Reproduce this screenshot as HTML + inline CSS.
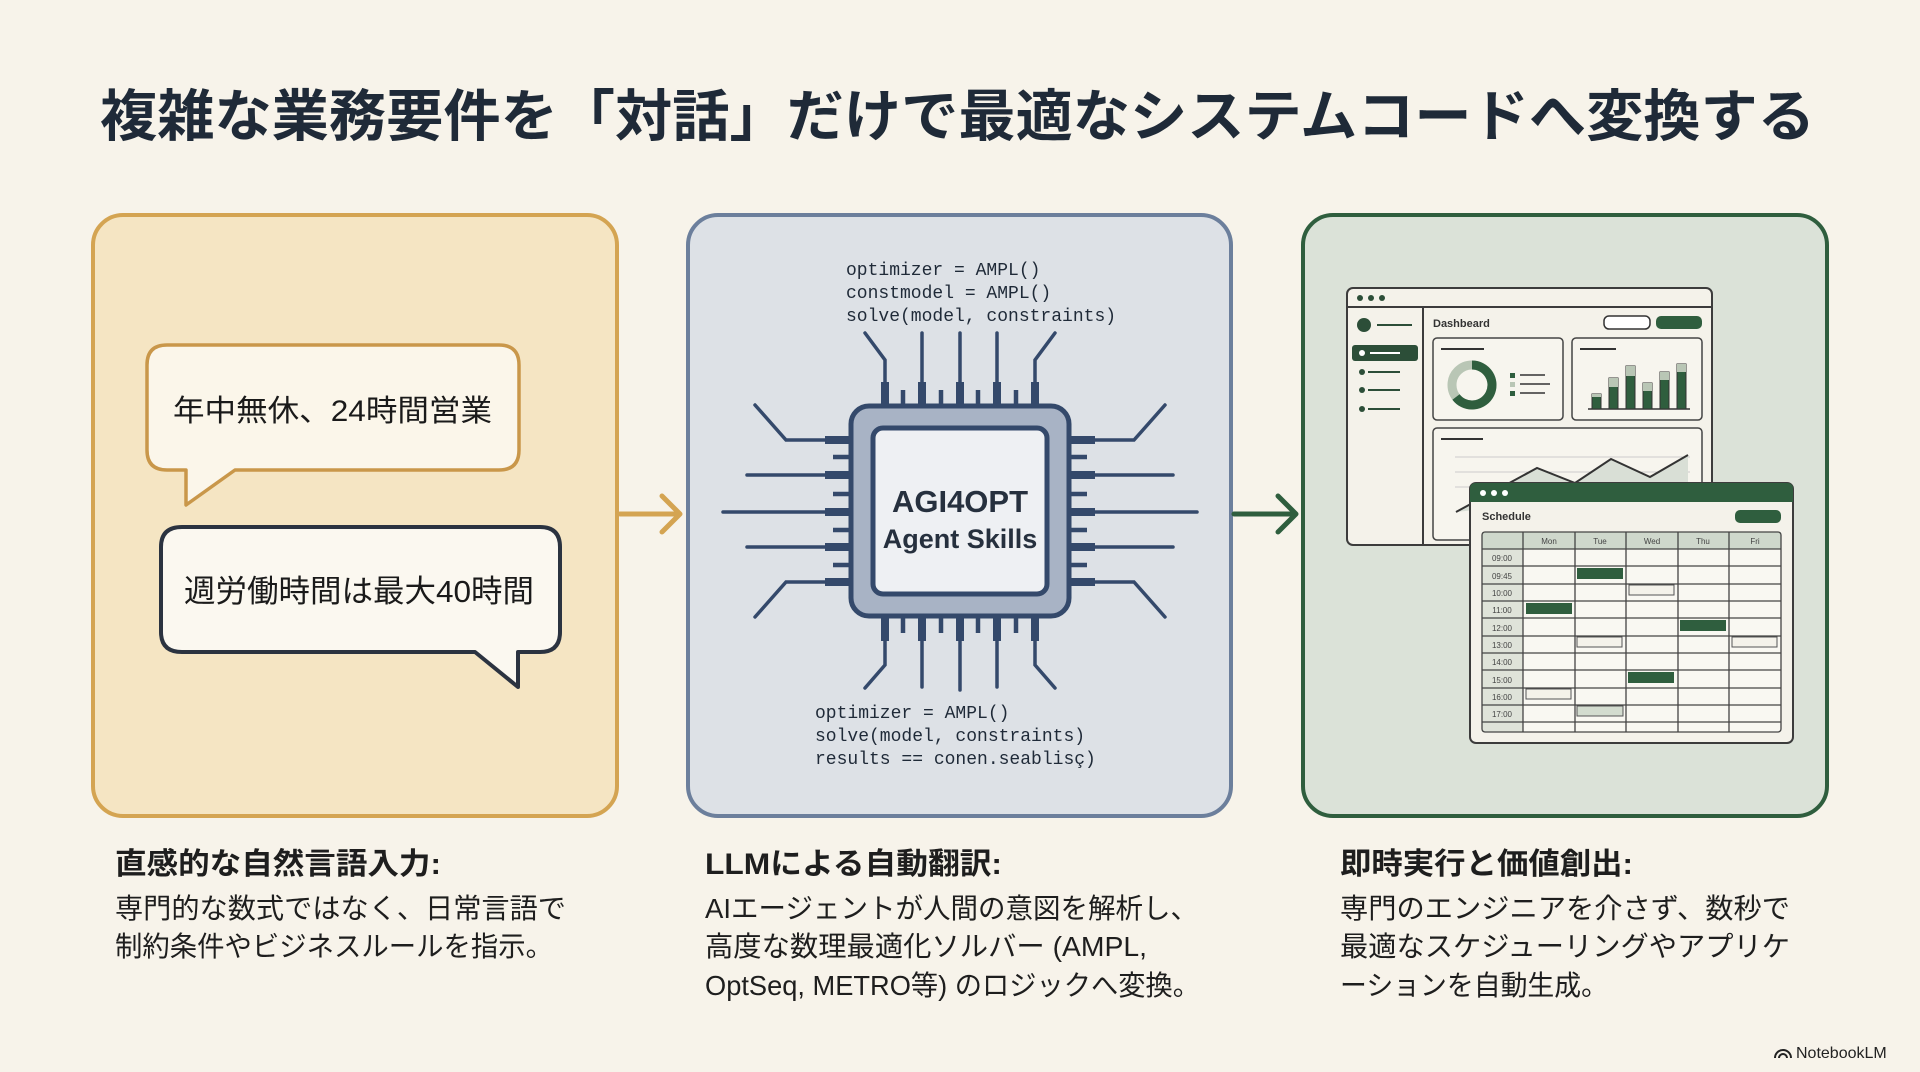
<!DOCTYPE html>
<html><head><meta charset="utf-8"><style>
html,body{margin:0;padding:0;background:#f7f3ea;}
svg{display:block;}
text{font-family:"Liberation Sans","Noto Sans CJK JP",sans-serif;}
.mono{font-family:"Liberation Mono","DejaVu Sans Mono",monospace;}
</style></head><body>
<svg width="1920" height="1072" viewBox="0 0 1920 1072" xmlns="http://www.w3.org/2000/svg">
<rect width="1920" height="1072" fill="#f7f3ea"/>
<text x="100" y="136" font-size="56" font-weight="bold" fill="#1f2a38" textLength="1715" lengthAdjust="spacingAndGlyphs">複雑な業務要件を「対話」だけで最適なシステムコードへ変換する</text>

<!-- panels -->
<rect x="93" y="215" width="524" height="601" rx="30" fill="#f5e5c3" stroke="#d4a452" stroke-width="4"/>
<rect x="688" y="215" width="543" height="601" rx="30" fill="#dde1e6" stroke="#6c7f9c" stroke-width="4"/>
<rect x="1303" y="215" width="524" height="601" rx="30" fill="#dbe2d8" stroke="#2f5e3e" stroke-width="4"/>

<!-- arrows -->
<g fill="none" stroke="#d4a452" stroke-width="5" stroke-linecap="round" stroke-linejoin="round">
<line x1="620" y1="514" x2="679" y2="514"/><polyline points="662,496 680,514 662,532"/></g>
<g fill="none" stroke="#2f5e3e" stroke-width="5" stroke-linecap="round" stroke-linejoin="round">
<line x1="1234" y1="514" x2="1295" y2="514"/><polyline points="1278,496 1296,514 1278,532"/></g>

<!-- bubbles -->
<path d="M167,345 H499 Q519,345 519,365 V450 Q519,470 499,470 H235 L186,505 L186,470 H167 Q147,470 147,450 V365 Q147,345 167,345 Z" fill="#fbf6ea" stroke="#c9974a" stroke-width="3.5" stroke-linejoin="round"/>
<text x="173" y="421" font-size="30" fill="#1a1a1a" textLength="319" lengthAdjust="spacingAndGlyphs">年中無休、24時間営業</text>
<path d="M182,527 H540 Q560,527 560,547 V632 Q560,652 540,652 H518 L518,687 L475,652 H182 Q161,652 161,632 V547 Q161,527 182,527 Z" fill="#fbf8f0" stroke="#2b3340" stroke-width="4" stroke-linejoin="round"/>
<text x="184" y="602" font-size="31" fill="#1a1a1a" textLength="350" lengthAdjust="spacingAndGlyphs">週労働時間は最大40時間</text>

<!-- code -->
<g class="mono" font-size="18" fill="#1f2a38">
<text class="mono" x="846" y="275">optimizer = AMPL()</text>
<text class="mono" x="846" y="298">constmodel = AMPL()</text>
<text class="mono" x="846" y="321">solve(model, constraints)</text>
<text class="mono" x="815" y="718">optimizer = AMPL()</text>
<text class="mono" x="815" y="741">solve(model, constraints)</text>
<text class="mono" x="815" y="764">results == conen.seablisç)</text>
</g>

<!-- chip leads -->
<g fill="none" stroke="#34496b" stroke-width="3.5" stroke-linecap="round">
<polyline points="885,383 885,360 865,333"/><line x1="922" y1="383" x2="922" y2="333"/><line x1="960" y1="383" x2="960" y2="333"/><line x1="997" y1="383" x2="997" y2="333"/><polyline points="1035,383 1035,360 1055,333"/>
<polyline points="885,640 885,665 865,688"/><line x1="922" y1="640" x2="922" y2="687"/><line x1="960" y1="640" x2="960" y2="690"/><line x1="997" y1="640" x2="997" y2="687"/><polyline points="1035,640 1035,665 1055,688"/>
<polyline points="826,440 786,440 755,405"/><line x1="826" y1="475" x2="747" y2="475"/><line x1="826" y1="512" x2="723" y2="512"/><line x1="826" y1="547" x2="747" y2="547"/><polyline points="826,582 786,582 755,617"/>
<polyline points="1094,440 1134,440 1165,405"/><line x1="1094" y1="475" x2="1173" y2="475"/><line x1="1094" y1="512" x2="1197" y2="512"/><line x1="1094" y1="547" x2="1173" y2="547"/><polyline points="1094,582 1134,582 1165,617"/>
</g>
<g stroke="#34496b" stroke-linecap="butt">
<g stroke-width="8"><line x1="885" y1="382" x2="885" y2="406"/><line x1="922" y1="382" x2="922" y2="406"/><line x1="960" y1="382" x2="960" y2="406"/><line x1="997" y1="382" x2="997" y2="406"/><line x1="1035" y1="382" x2="1035" y2="406"/>
<line x1="885" y1="616" x2="885" y2="641"/><line x1="922" y1="616" x2="922" y2="641"/><line x1="960" y1="616" x2="960" y2="641"/><line x1="997" y1="616" x2="997" y2="641"/><line x1="1035" y1="616" x2="1035" y2="641"/>
<line x1="825" y1="440" x2="851" y2="440"/><line x1="825" y1="475" x2="851" y2="475"/><line x1="825" y1="512" x2="851" y2="512"/><line x1="825" y1="547" x2="851" y2="547"/><line x1="825" y1="582" x2="851" y2="582"/>
<line x1="1069" y1="440" x2="1095" y2="440"/><line x1="1069" y1="475" x2="1095" y2="475"/><line x1="1069" y1="512" x2="1095" y2="512"/><line x1="1069" y1="547" x2="1095" y2="547"/><line x1="1069" y1="582" x2="1095" y2="582"/></g>
<g stroke-width="4.5"><line x1="903" y1="390" x2="903" y2="406"/><line x1="941" y1="390" x2="941" y2="406"/><line x1="978" y1="390" x2="978" y2="406"/><line x1="1016" y1="390" x2="1016" y2="406"/>
<line x1="903" y1="616" x2="903" y2="633"/><line x1="941" y1="616" x2="941" y2="633"/><line x1="978" y1="616" x2="978" y2="633"/><line x1="1016" y1="616" x2="1016" y2="633"/>
<line x1="833" y1="457" x2="851" y2="457"/><line x1="833" y1="494" x2="851" y2="494"/><line x1="833" y1="530" x2="851" y2="530"/><line x1="833" y1="565" x2="851" y2="565"/>
<line x1="1069" y1="457" x2="1087" y2="457"/><line x1="1069" y1="494" x2="1087" y2="494"/><line x1="1069" y1="530" x2="1087" y2="530"/><line x1="1069" y1="565" x2="1087" y2="565"/></g>
</g>
<rect x="851" y="406" width="218" height="210" rx="18" fill="#a8b3c5" stroke="#34496b" stroke-width="5"/>
<rect x="873" y="428" width="174" height="166" rx="10" fill="#eef0f3" stroke="#34496b" stroke-width="5"/>
<text x="960" y="512" font-size="31" font-weight="bold" fill="#26303e" text-anchor="middle">AGI4OPT</text>
<text x="960" y="548" font-size="27" font-weight="bold" fill="#26303e" text-anchor="middle">Agent Skills</text>

<!-- dashboard -->
<g stroke="#3c3c3c" stroke-width="2">
<rect x="1347" y="288" width="365" height="257" rx="6" fill="#f4f2ea"/>
<line x1="1347" y1="307" x2="1712" y2="307"/>
<line x1="1423" y1="307" x2="1423" y2="545"/>
</g>
<g fill="#2c4e38"><circle cx="1360" cy="298" r="3"/><circle cx="1371" cy="298" r="3"/><circle cx="1382" cy="298" r="3"/>
<circle cx="1364" cy="325" r="7"/><rect x="1352" y="345" width="66" height="16" rx="3"/>
<circle cx="1362" cy="372" r="3"/><circle cx="1362" cy="390" r="3"/><circle cx="1362" cy="409" r="3"/></g>
<g stroke="#2c4e38" stroke-width="2"><line x1="1377" y1="325" x2="1412" y2="325"/><line x1="1368" y1="372" x2="1400" y2="372"/><line x1="1368" y1="390" x2="1400" y2="390"/><line x1="1368" y1="409" x2="1400" y2="409"/></g>
<circle cx="1362" cy="353" r="3" fill="#fff"/><line x1="1370" y1="353" x2="1400" y2="353" stroke="#fff" stroke-width="2"/>
<text x="1433" y="327" font-size="11" font-weight="bold" fill="#333">Dashbeard</text>
<rect x="1604" y="316" width="46" height="13" rx="5" fill="#fff" stroke="#333" stroke-width="1.5"/>
<rect x="1656" y="316" width="46" height="13" rx="5" fill="#2f5e3e"/>
<g fill="#f7f5ee" stroke="#444" stroke-width="1.5">
<rect x="1433" y="338" width="130" height="82" rx="4"/>
<rect x="1572" y="338" width="130" height="82" rx="4"/>
<rect x="1433" y="428" width="269" height="112" rx="4"/>
</g>
<g stroke="#333" stroke-width="2"><line x1="1441" y1="349" x2="1484" y2="349"/><line x1="1580" y1="349" x2="1616" y2="349"/><line x1="1441" y1="439" x2="1483" y2="439"/></g>
<circle cx="1472" cy="385" r="20" fill="none" stroke="#b9c6b5" stroke-width="9"/>
<path d="M1472,365 A20,20 0 1 1 1456,397" fill="none" stroke="#2f5e3e" stroke-width="9"/>
<g fill="#2f5e3e"><rect x="1510" y="373" width="5" height="5"/><rect x="1510" y="382" width="5" height="5" fill="#b9c6b5"/><rect x="1510" y="391" width="5" height="5"/></g>
<g stroke="#333" stroke-width="1.5"><line x1="1520" y1="375" x2="1545" y2="375"/><line x1="1520" y1="384" x2="1550" y2="384"/><line x1="1520" y1="393" x2="1545" y2="393"/></g>
<line x1="1588" y1="409" x2="1690" y2="409" stroke="#333" stroke-width="1.5"/>
<g fill="#2f5e3e" stroke="#333" stroke-width="1">
<rect x="1592" y="394" width="9" height="15"/><rect x="1609" y="378" width="9" height="31"/><rect x="1626" y="366" width="9" height="43"/><rect x="1643" y="383" width="9" height="26"/><rect x="1660" y="372" width="9" height="37"/><rect x="1677" y="364" width="9" height="45"/></g>
<g fill="#b9c6b5"><rect x="1592" y="394" width="9" height="3"/><rect x="1609" y="378" width="9" height="9"/><rect x="1626" y="366" width="9" height="10"/><rect x="1643" y="383" width="9" height="8"/><rect x="1660" y="372" width="9" height="8"/><rect x="1677" y="364" width="9" height="8"/></g>
<g stroke="#ccc" stroke-width="1"><line x1="1455" y1="457" x2="1690" y2="457"/><line x1="1455" y1="472" x2="1690" y2="472"/><line x1="1455" y1="487" x2="1690" y2="487"/></g>
<polygon points="1456,512 1537,468 1575,483 1611,459 1650,477 1688,455 1688,487 1456,512" fill="#d9dfd6"/>
<polyline points="1456,512 1537,468 1575,483 1611,459 1650,477 1688,455" fill="none" stroke="#333" stroke-width="2"/>

<!-- schedule -->
<rect x="1470" y="483" width="323" height="260" rx="6" fill="#f4f2ea" stroke="#3c3c3c" stroke-width="2"/>
<path d="M1476,483 H1787 Q1793,483 1793,489 V502 H1470 V489 Q1470,483 1476,483 Z" fill="#2f5e3e"/>
<g fill="#fff"><circle cx="1483" cy="493" r="3"/><circle cx="1494" cy="493" r="3"/><circle cx="1505" cy="493" r="3"/></g>
<text x="1482" y="520" font-size="11" font-weight="bold" fill="#333">Schedule</text>
<rect x="1735" y="510" width="46" height="13" rx="5" fill="#2f5e3e"/>
<rect x="1482" y="532" width="299" height="200" fill="#f9f8f2"/>
<rect x="1482" y="532" width="299" height="17" fill="#cfd8cc"/>
<rect x="1482" y="549" width="41" height="183" fill="#dfe3d9"/>
<g fill="#2f5e3e"><rect x="1577" y="568" width="46" height="11"/><rect x="1526" y="603" width="46" height="11"/><rect x="1680" y="620" width="46" height="11"/><rect x="1628" y="672" width="46" height="11"/></g>
<g fill="#f4f2ea" stroke="#555" stroke-width="1"><rect x="1629" y="585" width="45" height="10"/><rect x="1577" y="637" width="45" height="10"/><rect x="1732" y="637" width="45" height="10"/><rect x="1526" y="689" width="45" height="10"/><rect x="1577" y="706" width="46" height="10" fill="#d3dccf"/></g>
<g stroke="#444" stroke-width="1.3">
<rect x="1482" y="532" width="299" height="200" rx="3" fill="none"/>
<line x1="1523" y1="532" x2="1523" y2="732"/><line x1="1575" y1="532" x2="1575" y2="732"/><line x1="1626" y1="532" x2="1626" y2="732"/><line x1="1678" y1="532" x2="1678" y2="732"/><line x1="1729" y1="532" x2="1729" y2="732"/>
<line x1="1482" y1="549" x2="1781" y2="549"/><line x1="1482" y1="566" x2="1781" y2="566"/><line x1="1482" y1="584" x2="1781" y2="584"/><line x1="1482" y1="601" x2="1781" y2="601"/><line x1="1482" y1="618" x2="1781" y2="618"/><line x1="1482" y1="636" x2="1781" y2="636"/><line x1="1482" y1="653" x2="1781" y2="653"/><line x1="1482" y1="670" x2="1781" y2="670"/><line x1="1482" y1="688" x2="1781" y2="688"/><line x1="1482" y1="705" x2="1781" y2="705"/><line x1="1482" y1="722" x2="1781" y2="722"/>
</g>
<g font-size="8" fill="#444" text-anchor="middle"><text x="1549" y="544">Mon</text><text x="1600" y="544">Tue</text><text x="1652" y="544">Wed</text><text x="1703" y="544">Thu</text><text x="1755" y="544">Fri</text>
<text x="1502" y="561">09:00</text><text x="1502" y="579">09:45</text><text x="1502" y="596">10:00</text><text x="1502" y="613">11:00</text><text x="1502" y="631">12:00</text><text x="1502" y="648">13:00</text><text x="1502" y="665">14:00</text><text x="1502" y="683">15:00</text><text x="1502" y="700">16:00</text><text x="1502" y="717">17:00</text></g>

<!-- bottom text -->
<g fill="#1e1e1e">
<text x="115" y="874" font-size="30" font-weight="bold" textLength="326" lengthAdjust="spacingAndGlyphs">直感的な自然言語入力:</text>
<text x="115" y="918" font-size="28" textLength="451" lengthAdjust="spacingAndGlyphs">専門的な数式ではなく、日常言語で</text>
<text x="115" y="956" font-size="28" textLength="438" lengthAdjust="spacingAndGlyphs">制約条件やビジネスルールを指示。</text>
<text x="705" y="874" font-size="30" font-weight="bold" textLength="297" lengthAdjust="spacingAndGlyphs">LLMによる自動翻訳:</text>
<text x="705" y="918" font-size="28" textLength="493" lengthAdjust="spacingAndGlyphs">AIエージェントが人間の意図を解析し、</text>
<text x="705" y="956" font-size="28" textLength="442" lengthAdjust="spacingAndGlyphs">高度な数理最適化ソルバー (AMPL,</text>
<text x="705" y="995" font-size="28" textLength="495" lengthAdjust="spacingAndGlyphs">OptSeq, METRO等) のロジックへ変換。</text>
<text x="1340" y="874" font-size="30" font-weight="bold" textLength="293" lengthAdjust="spacingAndGlyphs">即時実行と価値創出:</text>
<text x="1340" y="918" font-size="28" textLength="450" lengthAdjust="spacingAndGlyphs">専門のエンジニアを介さず、数秒で</text>
<text x="1340" y="956" font-size="28" textLength="450" lengthAdjust="spacingAndGlyphs">最適なスケジューリングやアプリケ</text>
<text x="1340" y="995" font-size="28" textLength="268" lengthAdjust="spacingAndGlyphs">ーションを自動生成。</text>
</g>
<g fill="none" stroke="#222" stroke-width="2"><path d="M1775,1058 A8,8 0 0 1 1791,1058"/><path d="M1779,1058 A4,4 0 0 1 1787,1058"/></g>
<text x="1796" y="1058" font-size="16" fill="#222">NotebookLM</text>
</svg>
</body></html>
